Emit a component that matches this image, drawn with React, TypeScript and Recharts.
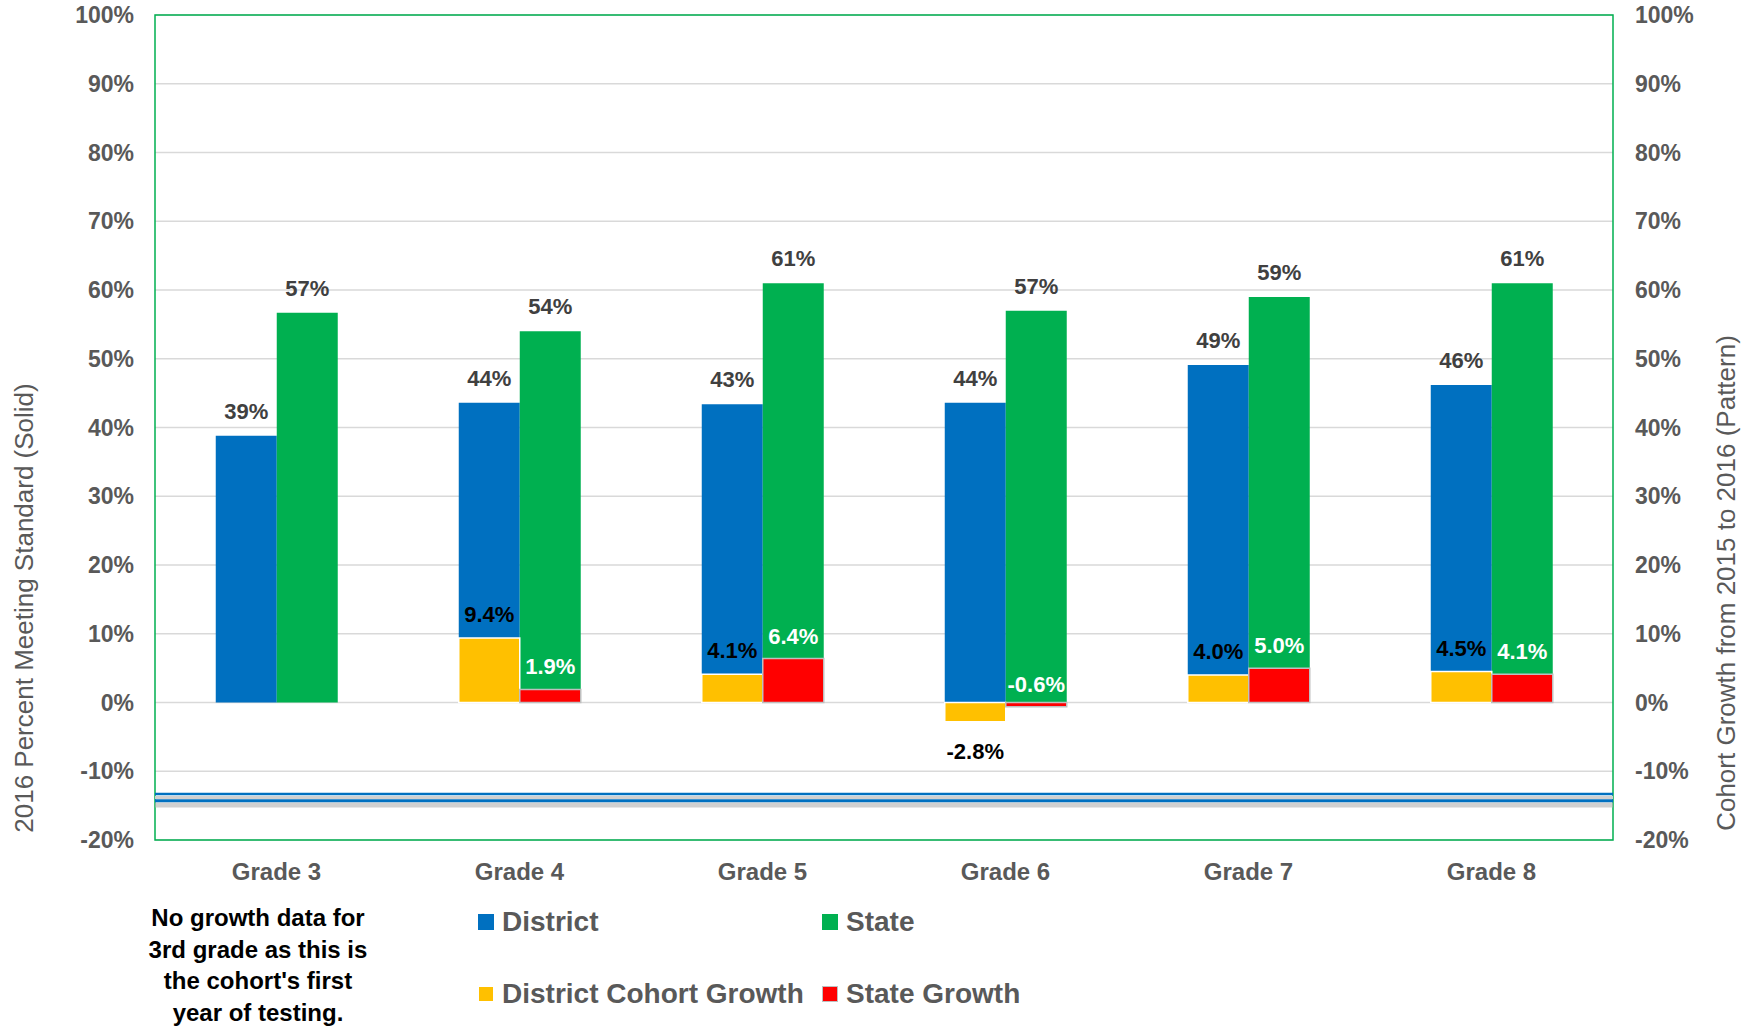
import {
  ComposedChart,
  Bar,
  XAxis,
  YAxis,
  CartesianGrid,
  ReferenceLine,
  ReferenceArea,
  LabelList,
  Legend,
} from "recharts";

const grades = ["Grade 3", "Grade 4", "Grade 5", "Grade 6", "Grade 7", "Grade 8"];
const districtPct = [38.8, 43.6, 43.4, 43.6, 49.1, 46.2];
const statePct = [56.7, 54.0, 61.0, 57.0, 59.0, 61.0];
const districtGrowth: (number | null)[] = [null, 9.4, 4.1, -2.8, 4.0, 4.5];
const stateGrowth: (number | null)[] = [null, 1.9, 6.4, -0.6, 5.0, 4.1];
const pctTicks = [-20, -10, 0, 10, 20, 30, 40, 50, 60, 70, 80, 90, 100];

const seriesOrder = ["District", "State", "District Cohort Growth", "State Growth"];
const seriesColors = ["#0070c0", "#00b050", "#ffc000", "#ff0000"];
const seriesBorders = ["none", "none", "1px solid #ffffff", "1.5px solid #bfbfbf"];

const FONT = "'Liberation Sans', Arial, sans-serif";
const GRAY = "#595959";

const chartData = grades.map((g, i) => ({
  grade: g,
  district: districtPct[i],
  state: statePct[i],
  districtGrowth: districtGrowth[i],
  stateGrowth: stateGrowth[i],
}));

function fmtGrowth(v: number) {
  return `${v.toFixed(1)}%`;
}

// growth labels sit just past the end of the overlaid bar
function DistrictGrowthLabel(props: any) {
  const { x, y, width, height, value } = props;
  if (value == null) return null;
  const top = Math.min(y, y + height);
  const bottom = Math.max(y, y + height);
  const ty = value >= 0 ? top - 16 : bottom + 37;
  return (
    <text x={x + width / 2} y={ty} textAnchor="middle" fill="#000000" fontSize={22} fontWeight="bold" fontFamily={FONT}>
      {fmtGrowth(value)}
    </text>
  );
}

function StateGrowthLabel(props: any) {
  const { x, y, width, height, value } = props;
  if (value == null) return null;
  const top = Math.min(y, y + height);
  const ty = top - (value >= 0 ? 15 : 11);
  return (
    <text x={x + width / 2} y={ty} textAnchor="middle" fill="#ffffff" fontSize={22} fontWeight="bold" fontFamily={FONT}>
      {fmtGrowth(value)}
    </text>
  );
}

function LegendGrid({ payload }: any) {
  const items = [...(payload || [])].sort(
    (a: any, b: any) => seriesOrder.indexOf(a.value) - seriesOrder.indexOf(b.value)
  );
  return (
    <div
      style={{
        display: "grid",
        gridTemplateColumns: "344px auto",
        gridAutoRows: "72px",
        fontFamily: FONT,
        textAlign: "left",
      }}
    >
      {items.map((it: any) => {
        const idx = seriesOrder.indexOf(it.value);
        return (
          <div key={it.value} style={{ display: "flex", alignItems: "center", height: 34 }}>
            <span
              style={{
                display: "inline-block",
                width: 16,
                height: 16,
                boxSizing: "border-box",
                background: seriesColors[idx],
                border: seriesBorders[idx],
                marginRight: 8,
              }}
            />
            <span style={{ fontSize: 28, fontWeight: "bold", color: GRAY, whiteSpace: "nowrap" }}>{it.value}</span>
          </div>
        );
      })}
    </div>
  );
}

export default function App() {
  const tickStyle = { fill: GRAY, fontSize: 23, fontWeight: "bold", fontFamily: FONT };
  return (
    <div style={{ position: "absolute", left: 0, top: 0, width: 1753, height: 1028, background: "#fff" }}>
      <ComposedChart
        width={1753}
        height={1028}
        data={chartData}
        margin={{ top: 15, right: 0, left: 0, bottom: 128 }}
        barCategoryGap="25%"
        barGap={0}
        style={{ fontFamily: FONT }}
      >
        <CartesianGrid xAxisId="main" yAxisId="left" vertical={false} stroke="#d9d9d9" strokeWidth={1.5} />
        <XAxis
          xAxisId="main"
          dataKey="grade"
          height={60}
          axisLine={false}
          tickLine={false}
          tickSize={0}
          tickMargin={23}
          tick={{ fill: GRAY, fontSize: 24, fontWeight: "bold", fontFamily: FONT }}
          interval={0}
        />
        <XAxis xAxisId="growth" dataKey="grade" hide height={0} />
        <YAxis
          yAxisId="left"
          width={155}
          domain={[-20, 100]}
          ticks={pctTicks}
          allowDataOverflow
          axisLine={false}
          tickLine={false}
          tickSize={0}
          tickMargin={21}
          tick={tickStyle}
          tickFormatter={(v: number) => `${v}%`}
          label={{
            content: () => (
              <text
                x={24}
                y={608}
                transform="rotate(-90 24 608)"
                textAnchor="middle"
                dominantBaseline="central"
                fill={GRAY}
                fontSize={26}
                fontFamily={FONT}
              >
                2016 Percent Meeting Standard (Solid)
              </text>
            ),
          }}
        />
        <YAxis
          yAxisId="right"
          orientation="right"
          width={140}
          domain={[-20, 100]}
          ticks={pctTicks}
          allowDataOverflow
          axisLine={false}
          tickLine={false}
          tickSize={0}
          tickMargin={22}
          tick={tickStyle}
          tickFormatter={(v: number) => `${v}%`}
          label={{
            content: () => (
              <text
                x={1726}
                y={583}
                transform="rotate(-90 1726 583)"
                textAnchor="middle"
                dominantBaseline="central"
                fill={GRAY}
                fontSize={26}
                fontFamily={FONT}
              >
                Cohort Growth from 2015 to 2016 (Pattern)
              </text>
            ),
          }}
        />

        {/* decorative double blue rule near the bottom of the plot */}
        <ReferenceLine xAxisId="main" yAxisId="left" y={-14.9} stroke="#b0b0b0" strokeWidth={5} strokeOpacity={0.6} />
        <ReferenceLine xAxisId="main" yAxisId="left" y={-13.8} stroke="#cfcfcf" strokeWidth={3} />
        <ReferenceLine xAxisId="main" yAxisId="left" y={-13.3} stroke="#0070c0" strokeWidth={2.5} />
        <ReferenceLine xAxisId="main" yAxisId="left" y={-14.3} stroke="#0070c0" strokeWidth={3} />

        <Bar xAxisId="main" yAxisId="left" dataKey="district" name="District" fill={seriesColors[0]} isAnimationActive={false}>
          <LabelList
            dataKey="district"
            position="top"
            offset={17}
            fill="#404040"
            fontSize={22}
            fontWeight="bold"
            fontFamily={FONT}
            formatter={(v: any) => `${Math.round(Number(v))}%`}
          />
        </Bar>
        <Bar xAxisId="main" yAxisId="left" dataKey="state" name="State" fill={seriesColors[1]} isAnimationActive={false}>
          <LabelList
            dataKey="state"
            position="top"
            offset={17}
            fill="#404040"
            fontSize={22}
            fontWeight="bold"
            fontFamily={FONT}
            formatter={(v: any) => `${Math.round(Number(v))}%`}
          />
        </Bar>
        <Bar
          xAxisId="growth"
          yAxisId="right"
          dataKey="districtGrowth"
          name="District Cohort Growth"
          fill={seriesColors[2]}
          stroke="#ffffff"
          strokeWidth={1.5}
          isAnimationActive={false}
        >
          <LabelList dataKey="districtGrowth" content={DistrictGrowthLabel} />
        </Bar>
        <Bar
          xAxisId="growth"
          yAxisId="right"
          dataKey="stateGrowth"
          name="State Growth"
          fill={seriesColors[3]}
          stroke="#bfbfbf"
          strokeWidth={1.5}
          isAnimationActive={false}
        >
          <LabelList dataKey="stateGrowth" content={StateGrowthLabel} />
        </Bar>

        <ReferenceArea
          xAxisId="main"
          yAxisId="left"
          y1={-20}
          y2={100}
          fill="none"
          fillOpacity={0}
          stroke="#00b050"
          strokeWidth={1.5}
          strokeOpacity={1}
        />

        <Legend
          layout="horizontal"
          verticalAlign="middle"
          align="center"
          content={LegendGrid}
          wrapperStyle={{ left: 478, top: 905, width: 560, height: 110 }}
        />
      </ComposedChart>

      <div
        style={{
          position: "absolute",
          left: 128,
          top: 902,
          width: 260,
          textAlign: "center",
          fontFamily: FONT,
          fontSize: 24,
          fontWeight: "bold",
          lineHeight: "31.5px",
          color: "#000",
        }}
      >
        No growth data for
        <br />
        3rd grade as this is
        <br />
        the cohort's first
        <br />
        year of testing.
      </div>
    </div>
  );
}
